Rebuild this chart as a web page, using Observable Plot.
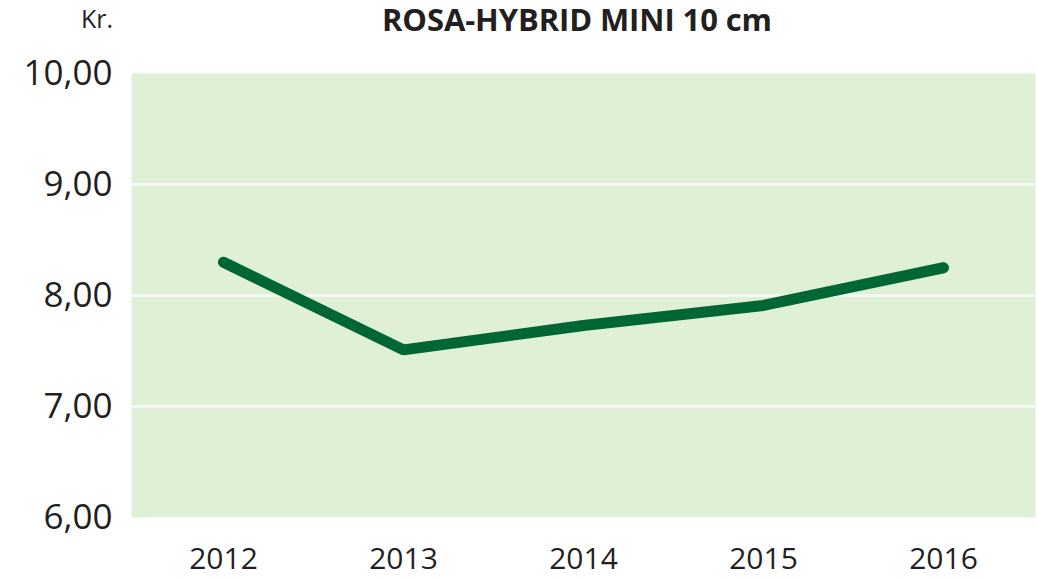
<!DOCTYPE html>
<html>
<head>
<meta charset="utf-8">
<script src="https://cdn.jsdelivr.net/npm/d3@7"></script>
<script src="https://cdn.jsdelivr.net/npm/@observablehq/plot@0.6"></script>
<style>
  body { margin: 0; background: #fff; font-family: "Open Sans", sans-serif; }
  #wrap { position: relative; width: 1037px; height: 580px; }
  #kr { position: absolute; right: 924px; top: 1px; font-size: 25px; color: #231f20; }
  #title { position: absolute; left: 382px; top: -2px; font-size: 31px; font-weight: 700; color: #231f20; letter-spacing: -0.1px; white-space: nowrap; }
</style>
</head>
<body>
<div id="wrap">
  <div id="kr">Kr.</div>
  <div id="title">ROSA-HYBRID MINI 10 cm</div>
  <div id="chart"></div>
</div>
<script>
const years = ["2012", "2013", "2014", "2015", "2016"];
const prices = [8.30, 7.51, 7.73, 7.91, 8.25];
const yTicks = [6, 7, 8, 9, 10];
const gridValues = [7, 8, 9];

const data = years.map((y, i) => ({year: y, price: prices[i]}));

const chart = Plot.plot({
  width: 1037,
  height: 580,
  marginLeft: 131,
  marginRight: 2,
  marginTop: 73,
  marginBottom: 63,
  style: {fontFamily: "Open Sans, sans-serif", color: "#231f20", background: "transparent"},
  x: {type: "point", domain: years, padding: 0.5, label: null},
  y: {domain: [6, 10], label: null},
  marks: [
    Plot.frame({fill: "#dff0d6", stroke: null}),
    Plot.ruleY(gridValues, {stroke: "#f4faf0", strokeWidth: 3}),
    Plot.axisY({ticks: yTicks, tickSize: 0, tickPadding: 19, fontSize: 35,
      tickFormat: d => d.toFixed(2).replace(".", ","), label: null}),
    Plot.axisX({tickSize: 0, tickPadding: 30, fontSize: 30, label: null}),
    Plot.line(data, {x: "year", y: "price", stroke: "#006633", strokeWidth: 11,
      strokeLinecap: "round", strokeLinejoin: "miter"})
  ]
});
document.getElementById("chart").appendChild(chart);
</script>
</body>
</html>
